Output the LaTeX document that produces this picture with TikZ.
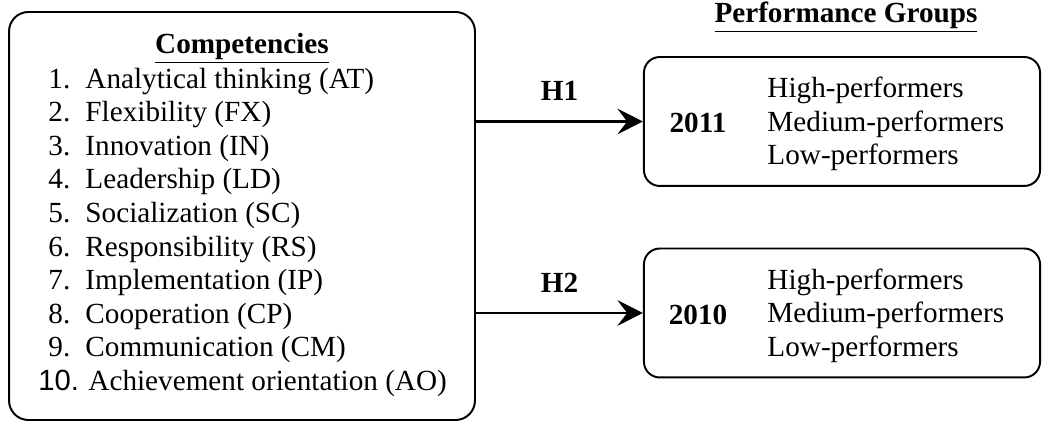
\documentclass[tikz,border=0pt]{standalone}
\usepackage{fontspec}
\setmainfont{Liberation Serif}
\newfontfamily\arialfont{Liberation Sans}
\usepackage{tikz}
\usetikzlibrary{arrows.meta, positioning, calc}
\newcommand\ultitle[1]{\underline{\raisebox{0pt}[\height][2pt]{#1}}}

\begin{document}
\begin{tikzpicture}[x=0.411pt, y=-0.411pt,
  font=\fontsize{12}{13.8}\selectfont,
  bigbox/.style={draw, line width=0.8pt, rounded corners=8pt, minimum width=191.5pt, minimum height=167.7pt, inner sep=0pt},
  groupbox/.style={draw, line width=0.8pt, rounded corners=6.5pt, minimum width=162.8pt, minimum height=53pt, inner sep=0pt},
  itemtxt/.style={anchor=west, inner sep=0pt, text height=0.7em, text depth=0.2em},
  hyplabel/.style={above=8pt, inner sep=0pt, font=\fontsize{12}{13.8}\selectfont\bfseries},
  arr/.style={-{Stealth[length=10.5pt, width=10.5pt, inset=4pt]}, line width=0.9pt}]
\useasboundingbox (0,0) rectangle (1042,421);

% --- LAYER 1: CAIXAS ---
\node[bigbox] (comp) at (242,216) {};
\node[groupbox] (g1) at (842,121.5) {};
\node[groupbox] (g2) at (842,313) {};

% --- LAYER 2: TITULOS ---
\node[anchor=base, inner sep=0pt, font=\fontsize{12}{13.8}\selectfont\bfseries] (tcomp) at (242,54) {\ultitle{Competencies}};
\node[anchor=base, inner sep=0pt, font=\fontsize{12}{13.8}\selectfont\bfseries] (tperf) at (846,23) {\ultitle{Performance Groups}};

% --- LAYER 3: LISTA DE COMPETENCIAS ---
\foreach \n/\t in {1/{Analytical thinking (AT)}, 2/{Flexibility (FX)}, 3/{Innovation (IN)},
    4/{Leadership (LD)}, 5/{Socialization (SC)}, 6/{Responsibility (RS)},
    7/{Implementation (IP)}, 8/{Cooperation (CP)}, 9/{Communication (CM)}}{
  \node[itemtxt] (num\n) at (48,{82+(\n-1)*33.6}) {\n.};
  \node[itemtxt] (item\n) at (85,{82+(\n-1)*33.6}) {\t};
}
\node[itemtxt, font=\fontsize{12}{13.8}\selectfont\arialfont] (num10) at (38,384.4) {10.};
\node[itemtxt] (item10) at (88,384.4) {Achievement orientation (AO)};

% --- LAYER 4: GRUPOS ---
\node[font=\fontsize{12}{13.8}\selectfont\bfseries, inner sep=0pt] (y1) at (698,123) {2011};
\node[font=\fontsize{12}{13.8}\selectfont\bfseries, inner sep=0pt] (y2) at (698,315) {2010};
\node[anchor=west, align=left, inner sep=0pt] (p1) at (767,124) {High-performers\\Medium-performers\\Low-performers};
\node[anchor=west, align=left, inner sep=0pt] (p2) at (767,315.5) {High-performers\\Medium-performers\\Low-performers};

% --- LAYER 5: SETAS ---
\draw[arr] (comp.east |- g1.west) -- (g1.west) node[midway, hyplabel] (h1) {H1};
\draw[arr] (comp.east |- g2.west) -- (g2.west) node[midway, hyplabel] (h2) {H2};
\end{tikzpicture}
\end{document}
